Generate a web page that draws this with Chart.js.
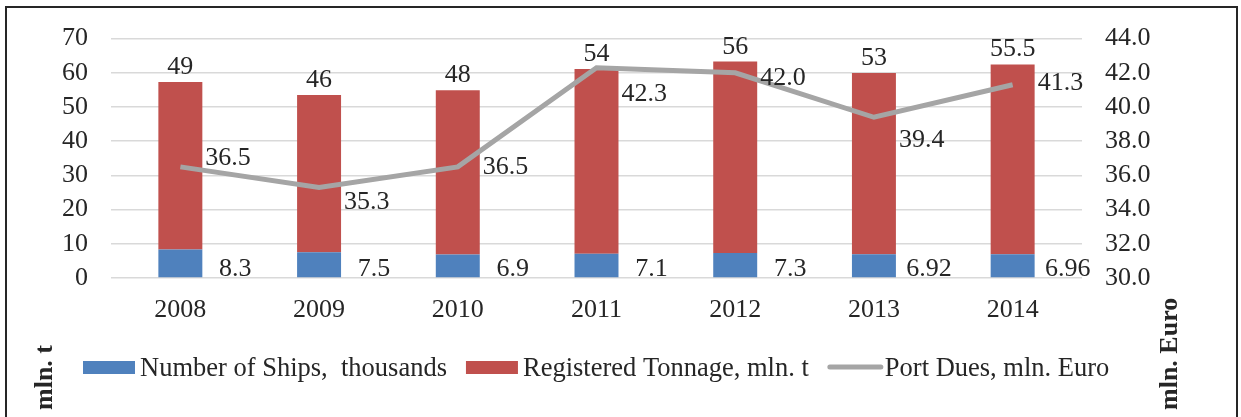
<!DOCTYPE html>
<html>
<head>
<meta charset="utf-8">
<script src="https://cdn.jsdelivr.net/npm/chart.js@4/dist/chart.umd.min.js"></script>
<style>
  html, body { margin: 0; padding: 0; background: #fff; }
  #wrap { width: 1241px; height: 417px; position: relative; }
</style>
</head>
<body>
<div id="wrap"><canvas id="chart" width="1241" height="417"></canvas></div>
<script>
// data
const years = ['2008', '2009', '2010', '2011', '2012', '2013', '2014'];
const ships = [8.3, 7.5, 6.9, 7.1, 7.3, 6.92, 6.96];
const tonnage = [49, 46, 48, 54, 56, 53, 55.5];
const portDues = [36.5, 35.3, 36.5, 42.3, 42.0, 39.4, 41.3];

const FONT = '"Liberation Serif", "Times New Roman", serif';
const TEXT = '#262626';

// vertical nudges of the port dues labels (they were moved by hand in the original)
const duesLabelDy = [-9, 15, 0, 27, 5, 23, -2];

const extras = {
    id: 'extras',
    afterDatasetsDraw(chart) {
        const ctx = chart.ctx;
        const zeroY = chart.scales.y.getPixelForValue(0);
        const shipMeta = chart.getDatasetMeta(0);
        const tonMeta = chart.getDatasetMeta(1);
        const duesMeta = chart.getDatasetMeta(2);
        ctx.save();
        ctx.font = '26px ' + FONT;
        ctx.fillStyle = TEXT;
        ctx.textBaseline = 'alphabetic';
        ctx.textAlign = 'center';
        tonMeta.data.forEach((bar, i) => {
            ctx.fillText(String(tonnage[i]), bar.x, bar.y - 8);
        });
        shipMeta.data.forEach((bar, i) => {
            ctx.fillText(String(ships[i]), bar.x + 55, zeroY - 2);
        });
        ctx.textAlign = 'left';
        ctx.textBaseline = 'middle';
        duesMeta.data.forEach((pt, i) => {
            ctx.fillText(portDues[i].toFixed(1), pt.x + 25, pt.y + duesLabelDy[i]);
        });
        ctx.restore();
    },
    afterDraw(chart) {
        const ctx = chart.ctx;
        ctx.save();
        // frame
        ctx.strokeStyle = '#262626';
        ctx.lineWidth = 2;
        ctx.strokeRect(6, 7, 1231, 420);

        // legend
        ctx.font = '26.5px ' + FONT;
        ctx.fillStyle = TEXT;
        ctx.textBaseline = 'middle';
        ctx.textAlign = 'left';
        let x = 83;
        const ly = 367;
        chart.data.datasets.forEach(ds => {
            if (ds.type === 'line') {
                ctx.strokeStyle = ds.borderColor;
                ctx.lineWidth = 5;
                ctx.lineCap = 'round';
                ctx.beginPath();
                ctx.moveTo(x + 2, ly);
                ctx.lineTo(x + 53, ly);
                ctx.stroke();
            } else {
                ctx.fillStyle = ds.backgroundColor;
                ctx.fillRect(x, ly - 6, 52, 13);
            }
            ctx.fillStyle = TEXT;
            ctx.fillText(ds.label, x + 57, ly + 2);
            x += 57 + ctx.measureText(ds.label).width + 19;
        });

        // axis titles
        ctx.font = 'bold 26px ' + FONT;
        ctx.textAlign = 'left';
        ctx.textBaseline = 'middle';
        ctx.translate(45, 410);
        ctx.rotate(-Math.PI / 2);
        ctx.fillText('mln. t', 0, 0);
        ctx.restore();
        ctx.save();
        ctx.font = 'bold 26px ' + FONT;
        ctx.fillStyle = TEXT;
        ctx.textAlign = 'left';
        ctx.textBaseline = 'middle';
        ctx.translate(1170, 410);
        ctx.rotate(-Math.PI / 2);
        ctx.fillText('mln. Euro', 0, 0);
        ctx.restore();
    }
};

const ctx = document.getElementById('chart').getContext('2d');
const chart = new Chart(ctx, {
    type: 'bar',
    data: {
        labels: years,
        datasets: [{
            label: 'Number of Ships,  thousands',
            data: ships,
            backgroundColor: '#4f81bd',
            yAxisID: 'y',
            categoryPercentage: 1,
            barPercentage: 0.317
        }, {
            label: 'Registered Tonnage, mln. t',
            data: tonnage,
            backgroundColor: '#c0504d',
            yAxisID: 'y',
            categoryPercentage: 1,
            barPercentage: 0.317
        }, {
            type: 'line',
            label: 'Port Dues, mln. Euro',
            data: portDues,
            borderColor: '#a5a5a5',
            backgroundColor: '#a5a5a5',
            borderWidth: 5,
            pointRadius: 0,
            tension: 0,
            yAxisID: 'y1',
            order: -1
        }]
    },
    options: {
        responsive: false,
        animation: false,
        layout: { padding: { top: 33, left: 0, right: 0, bottom: 0 } },
        plugins: {
            legend: { display: false },
            tooltip: { enabled: false }
        },
        scales: {
            x: {
                stacked: true,
                grid: { display: false },
                border: { display: false },
                ticks: {
                    font: { family: FONT, size: 26 },
                    color: TEXT,
                    padding: 9,
                    maxRotation: 0
                },
                afterFit: function(scale) { scale.height = 139; }
            },
            y: {
                stacked: true,
                position: 'left',
                min: 0,
                max: 70,
                ticks: {
                    stepSize: 10,
                    font: { family: FONT, size: 26 },
                    color: TEXT,
                    padding: 23
                },
                grid: { color: '#d9d9d9', lineWidth: 1.5, drawTicks: false },
                border: { display: false },
                afterFit: function(scale) { scale.width = 111; }
            },
            y1: {
                position: 'right',
                min: 30,
                max: 44,
                ticks: {
                    stepSize: 2,
                    font: { family: FONT, size: 26 },
                    color: TEXT,
                    padding: 23,
                    callback: v => v.toFixed(1)
                },
                grid: { display: false, drawTicks: false },
                border: { display: false },
                afterFit: function(scale) { scale.width = 159; }
            }
        }
    },
    plugins: [extras]
});
</script>
</body>
</html>
